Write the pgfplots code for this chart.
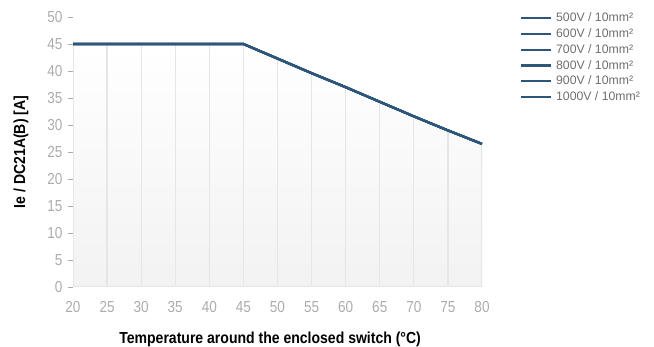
\documentclass[border=0pt]{standalone}
\usepackage{pgfplots}
\pgfplotsset{compat=1.18}
\usepackage{pgfplotstable}
\usepackage{fontspec}
\setmainfont{Liberation Sans}[FakeStretch=0.88]
\newfontfamily\legfont{Liberation Sans}
\newfontfamily\tickfont{Liberation Sans}[FakeStretch=0.85]
\definecolor{linec}{RGB}{44,86,122}
\definecolor{tickc}{RGB}{172,172,172}
\definecolor{legc}{RGB}{110,110,110}
\definecolor{gridc}{RGB}{230,230,230}
\pgfplotsset{legend image code/.code={\draw[#1] (0bp,0bp) -- (30bp,0bp);}}
\pgfplotstableread{
T I
20 45
25 45
30 45
35 45
40 45
45 45
50 42.3
55 39.6
60 37.0
65 34.3
70 31.6
75 29.0
80 26.5
}\derating
\begin{document}
\begin{tikzpicture}
\path[use as bounding box] (0,0) rectangle (654bp,347bp);
\begin{axis}[
  at={(73bp,60bp)}, anchor=south west,
  scale only axis, width=409bp, height=270bp,
  xmin=20, xmax=80, ymin=0, ymax=50,
  xtick={20,25,...,80}, ytick={0,5,...,50},
  axis line style={draw=none},
  x tick style={draw=none},
  y tick style={tickc, line width=0.7bp},
  tick align=outside, major tick length=5bp,
  ytick pos=left, xtick pos=bottom,
  /pgf/number format/assume math mode=true,
  yticklabel style={tickc, font=\tickfont\fontsize{16}{18}\selectfont, xshift=-2bp},
  xticklabel style={tickc, font=\tickfont\fontsize{16}{18}\selectfont, yshift=-6bp},
  xlabel={Temperature around the enclosed switch (°C)},
  ylabel={Ie / DC21A(B) [A]},
  label style={font=\bfseries\fontsize{16}{18}\selectfont},
  xlabel style={at={(axis description cs:0.482,-0.193)}, anchor=center},
  ylabel style={at={(axis description cs:-0.127,0.5)}, anchor=center},
  legend style={at={(axis description cs:1.085,1.03)}, anchor=north west,
    draw=none, fill=none, font=\legfont\fontsize{12.3}{14}\selectfont\color{legc},
    row sep=1.4bp, nodes={inner xsep=4bp}},
  legend cell align=left,
]
\addplot[draw=none, top color=white, bottom color=black!5, forget plot]
  table[x=T,y=I]{\derating} \closedcycle;
\addplot[ycomb, gridc, line width=1.3bp, forget plot] table[x=T,y=I]{\derating};
\addplot[gridc, line width=1.5bp, forget plot] coordinates {(20,0) (80,0)};
\addplot[linec, line width=2.2bp] table[x=T,y=I]{\derating};
\addlegendentry{500V / 10mm²}
\addplot[linec, line width=2.2bp] table[x=T,y=I]{\derating};
\addlegendentry{600V / 10mm²}
\addplot[linec, line width=2.2bp] table[x=T,y=I]{\derating};
\addlegendentry{700V / 10mm²}
\addplot[linec, line width=2.2bp] table[x=T,y=I]{\derating};
\addlegendentry{800V / 10mm²}
\addplot[linec, line width=2.2bp] table[x=T,y=I]{\derating};
\addlegendentry{900V / 10mm²}
\addplot[linec, line width=2.2bp] table[x=T,y=I]{\derating};
\addlegendentry{1000V / 10mm²}
\end{axis}
\end{tikzpicture}
\end{document}
